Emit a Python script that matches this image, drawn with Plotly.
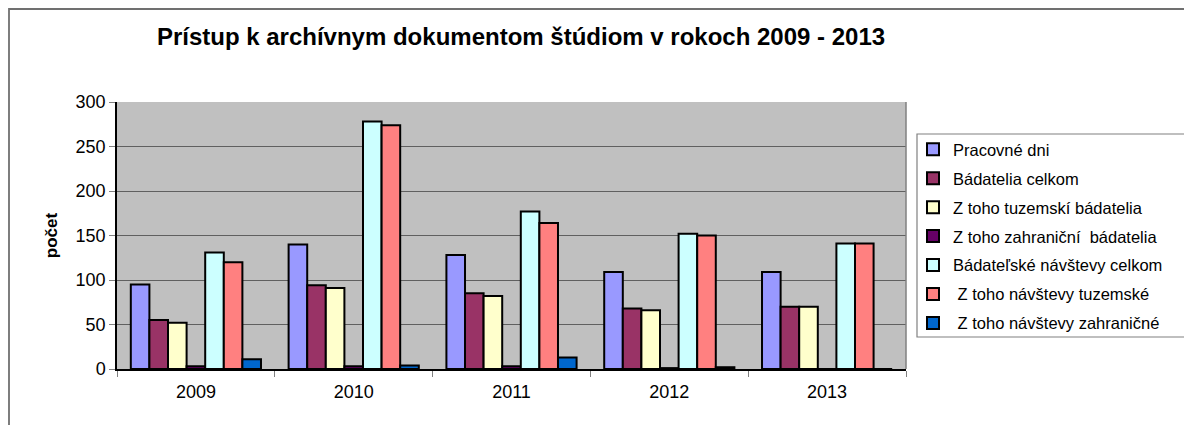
import plotly.graph_objects as go

# ---- data ----
years = ["2009", "2010", "2011", "2012", "2013"]
series_names = [
    "Pracovné dni",
    "Bádatelia celkom",
    "Z toho tuzemskí bádatelia",
    "Z toho zahraniční  bádatelia",
    "Bádateľské návštevy celkom",
    " Z toho návštevy tuzemské",
    " Z toho návštevy zahraničné",
]
pracovne_dni = [95, 140, 128, 109, 109]
badatelia_celkom = [55, 94, 85, 68, 70]
tuzemski_badatelia = [52, 91, 82, 66, 70]
zahranicni_badatelia = [3, 3, 3, 1, 0]
navstevy_celkom = [131, 278, 177, 152, 141]
navstevy_tuzemske = [120, 274, 164, 150, 141]
navstevy_zahranicne = [11, 4, 13, 2, 0]
series_values = [pracovne_dni, badatelia_celkom, tuzemski_badatelia,
                 zahranicni_badatelia, navstevy_celkom, navstevy_tuzemske,
                 navstevy_zahranicne]
colors = ["#9999FF", "#993366", "#FFFFCC", "#660066", "#CCFFFF", "#FF8080", "#0066CC"]
y_ticks = [0, 50, 100, 150, 200, 250, 300]

# ---- layout geometry (pixels, in window coordinates) ----
OFF = 8                      # page body margin offset
W, H = 1192 - OFF, 425 - OFF  # figure size
PL, PR, PT, PB = 117 - OFF, 906 - OFF, 102 - OFF, 369 - OFF  # plot area edges
pw, ph = PR - PL, PB - PT

def px_x(x):
    return (x - OFF - PL) / pw

def px_y(y):
    return (PB - (y - OFF)) / ph

FONT = "Liberation Sans, Arial, sans-serif"

fig = go.Figure()
for name, vals, col in zip(series_names, series_values, colors):
    fig.add_trace(go.Bar(
        x=years, y=vals, name=name, legendgroup=name,
        marker=dict(color=col, line=dict(color="black", width=2)),
    ))

fig.update_layout(
    width=W, height=H,
    margin=dict(l=PL, r=W - PR, t=PT, b=H - PB, pad=0),
    paper_bgcolor="white",
    plot_bgcolor="#C0C0C0",
    barmode="group",
    bargap=0.175,
    bargroupgap=0,
    font=dict(family=FONT, color="black", size=16),
    title=dict(
        text="<b>Prístup k archívnym dokumentom štúdiom v rokoch 2009 - 2013</b>",
        x=(521 - OFF) / W, xref="container", xanchor="center",
        y=1 - (37 - OFF) / H, yref="container", yanchor="middle",
        font=dict(family=FONT, size=24, color="black"),
    ),
    showlegend=True,
    legend=dict(
        x=px_x(913), y=px_y(132), xanchor="left", yanchor="top",
        bgcolor="rgba(0,0,0,0)", borderwidth=0,
        font=dict(family=FONT, size=16.5, color="black"),
        tracegroupgap=4.5,
        traceorder="grouped",
    ),
    xaxis=dict(
        type="category",
        showgrid=False,
        showline=True, linecolor="black", linewidth=1.5,
        ticks="outside", tickson="boundaries", ticklen=6, tickcolor="#808080",
        tickfont=dict(family=FONT, size=18, color="black"),
        ticklabelstandoff=6,
    ),
    yaxis=dict(
        range=[0, 300],
        tickvals=y_ticks,
        showgrid=True, gridcolor="#606060", gridwidth=1,
        zeroline=False,
        showline=True, linecolor="black", linewidth=1.5,
        ticks="outside", ticklen=6, tickcolor="#808080",
        tickfont=dict(family=FONT, size=18, color="black"),
        ticklabelstandoff=0,
        title=dict(text="<b>počet</b>", standoff=14,
                   font=dict(family=FONT, size=17, color="black")),
    ),
    shapes=[
        # plot area border (right side)
        dict(type="line", xref="paper", yref="paper", x0=1, x1=1, y0=0, y1=1,
             line=dict(color="#808080", width=1.5)),
        # legend box
        dict(type="rect", xref="paper", yref="paper",
             x0=px_x(917), x1=px_x(1192 + 20), y0=px_y(337), y1=px_y(134),
             line=dict(color="#808080", width=1.2)),
        # outer chart border
        dict(type="rect", xref="paper", yref="paper",
             x0=px_x(9), x1=px_x(1192 + 20), y0=px_y(425 + 20), y1=px_y(9),
             line=dict(color="#707070", width=1.8)),
    ],
)

fig.write_html("out.html")
